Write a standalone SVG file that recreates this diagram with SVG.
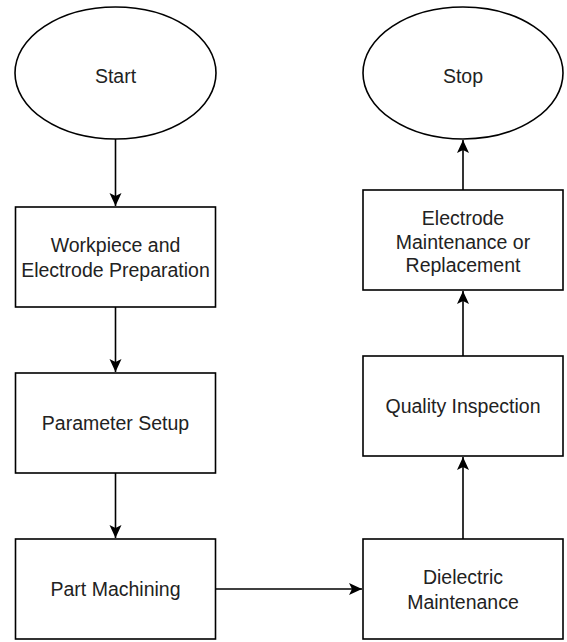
<svg xmlns="http://www.w3.org/2000/svg" width="567" height="642" viewBox="0 0 567 642">
<defs>
<style>
.n{fill:#fff;stroke:#000;stroke-width:1.6}
.t{font-family:"Liberation Sans",Arial,sans-serif;font-size:19.5px;fill:#222;text-anchor:middle}
.c{fill:none;stroke:#000;stroke-width:1.6}
</style>
<marker id="ah" markerUnits="userSpaceOnUse" markerWidth="14" markerHeight="14" viewBox="0 0 14 14" refX="13" refY="7" orient="auto">
<path d="M0,1 L13,7 L0,13 L3,7 Z" fill="#000"/>
</marker>
</defs>
<rect width="567" height="642" fill="#fff"/>
<g id="start"><ellipse class="n" cx="115.5" cy="73" rx="100.5" ry="66"/><text class="t" x="115.5" y="83">Start</text></g>
<g id="stop"><ellipse class="n" cx="463" cy="73" rx="100" ry="66"/><text class="t" x="463" y="83">Stop</text></g>
<g id="prep"><rect class="n" x="15.5" y="207" width="200" height="100"/><text class="t" x="115.5" y="252">Workpiece and</text><text class="t" x="115.5" y="276.5">Electrode Preparation</text></g>
<g id="param"><rect class="n" x="15.5" y="373" width="200" height="100"/><text class="t" x="115.5" y="430">Parameter Setup</text></g>
<g id="machining"><rect class="n" x="15.5" y="539" width="200" height="100"/><text class="t" x="115.5" y="596">Part Machining</text></g>
<g id="dielectric"><rect class="n" x="363" y="539" width="200" height="100"/><text class="t" x="463" y="584">Dielectric</text><text class="t" x="463" y="608.5">Maintenance</text></g>
<g id="quality"><rect class="n" x="363" y="356" width="200" height="100"/><text class="t" x="463" y="413">Quality Inspection</text></g>
<g id="electrode"><rect class="n" x="363" y="190" width="200" height="100"/><text class="t" x="463" y="225">Electrode</text><text class="t" x="463" y="248.5">Maintenance or</text><text class="t" x="463" y="272">Replacement</text></g>
<g id="connectors">
<line class="c" x1="115.5" y1="139" x2="115.5" y2="206" marker-end="url(#ah)"/>
<line class="c" x1="115.5" y1="307" x2="115.5" y2="372" marker-end="url(#ah)"/>
<line class="c" x1="115.5" y1="473" x2="115.5" y2="538" marker-end="url(#ah)"/>
<line class="c" x1="215.5" y1="589" x2="362" y2="589" marker-end="url(#ah)"/>
<line class="c" x1="463" y1="539" x2="463" y2="457" marker-end="url(#ah)"/>
<line class="c" x1="463" y1="356" x2="463" y2="291" marker-end="url(#ah)"/>
<line class="c" x1="463" y1="190" x2="463" y2="140" marker-end="url(#ah)"/>
</g>
</svg>
